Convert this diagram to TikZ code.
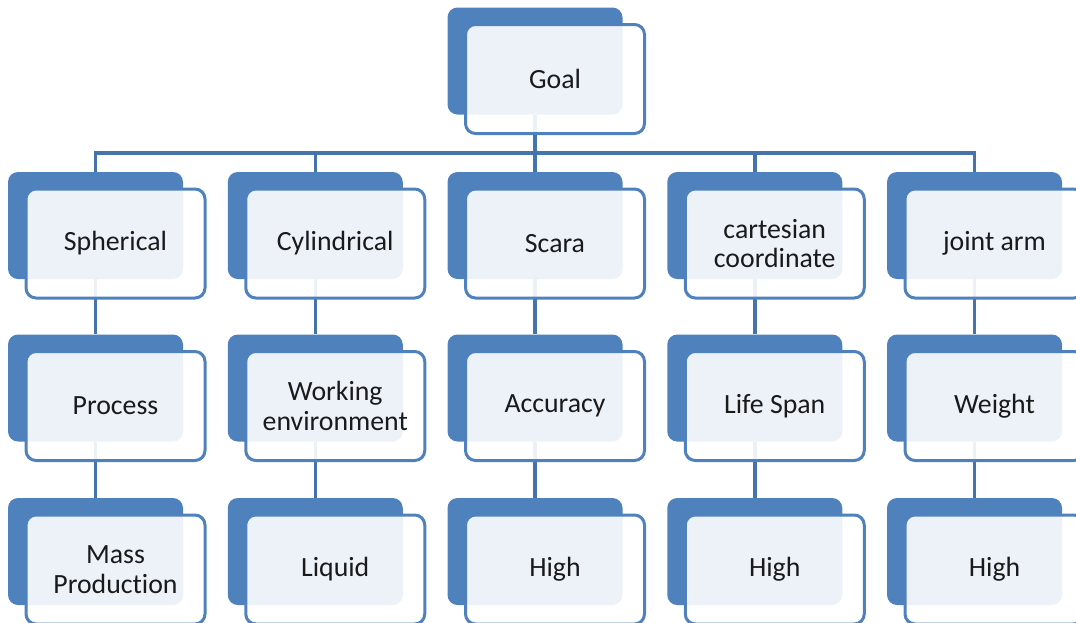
\documentclass[tikz,border=0pt]{standalone}
\usepackage{fontspec}
\setmainfont{Carlito}[Ligatures=NoCommon]
\definecolor{boxblue}{HTML}{4F81BD}
\definecolor{linkblue}{HTML}{4574AC}
\definecolor{txt}{HTML}{1A1A1A}
\begin{document}
\begin{tikzpicture}[x=1pt,y=-1pt,
 backbox/.style={rectangle, fill=boxblue, rounded corners=10pt, minimum width=175pt, minimum height=107pt, inner sep=0pt},
 frontbox/.style={rectangle, draw=boxblue, line width=3pt, fill=white, fill opacity=0.9, text opacity=1, rounded corners=10pt, minimum width=179pt, minimum height=109pt, inner sep=0pt, align=center, font=\fontsize{27.8}{29.5}\selectfont, text=txt},
 link/.style={draw=linkblue, line width=3.5pt}]
\useasboundingbox (0,0) rectangle (1076,622);
\clip (0,0) rectangle (1076,622);
% back boxes
\node[backbox] (bg) at (535,61) {};
\node[backbox] (b11) at (95.5,225.5) {};
\node[backbox] (b21) at (315.25,225.5) {};
\node[backbox] (b31) at (535,225.5) {};
\node[backbox] (b41) at (754.75,225.5) {};
\node[backbox] (b51) at (974.5,225.5) {};
\node[backbox] (b12) at (95.5,388) {};
\node[backbox] (b22) at (315.25,388) {};
\node[backbox] (b32) at (535,388) {};
\node[backbox] (b42) at (754.75,388) {};
\node[backbox] (b52) at (974.5,388) {};
\node[backbox] (b13) at (95.5,551.5) {};
\node[backbox] (b23) at (315.25,551.5) {};
\node[backbox] (b33) at (535,551.5) {};
\node[backbox] (b43) at (754.75,551.5) {};
\node[backbox] (b53) at (974.5,551.5) {};
% connectors
\coordinate (bar) at (0,153);
\draw[link] (bg.south) -- (bg.south |- bar);
\draw[link] (b11.north) -- (b11.north |- bar) -- (b51.north |- bar) -- (b51.north);
\draw[link] (b21.north) -- (b21.north |- bar);
\draw[link] (b31.north) -- (b31.north |- bar);
\draw[link] (b41.north) -- (b41.north |- bar);
\foreach \c in {1,...,5}{
  \draw[link] (b\c1.south) -- (b\c2.north);
  \draw[link] (b\c2.south) -- (b\c3.north);
}
% front boxes
\tikzset{fshift/.style={shift={(20,18)}}}
\node[frontbox] (fg) at ([fshift]bg.center) {Goal};
\node[frontbox] (f11) at ([fshift]b11.center) {Spherical};
\node[frontbox] (f21) at ([fshift]b21.center) {Cylindrical};
\node[frontbox] (f31) at ([fshift]b31.center) {Scara};
\node[frontbox] (f41) at ([fshift]b41.center) {cartesian\\coordinate};
\node[frontbox] (f51) at ([fshift]b51.center) {joint arm};
\node[frontbox] (f12) at ([fshift]b12.center) {Process};
\node[frontbox] (f22) at ([fshift]b22.center) {Working\\environment};
\node[frontbox] (f32) at ([fshift]b32.center) {Accuracy};
\node[frontbox] (f42) at ([fshift]b42.center) {Life Span};
\node[frontbox] (f52) at ([fshift]b52.center) {Weight};
\node[frontbox] (f13) at ([fshift]b13.center) {Mass\\Production};
\node[frontbox] (f23) at ([fshift]b23.center) {Liquid};
\node[frontbox] (f33) at ([fshift]b33.center) {High};
\node[frontbox] (f43) at ([fshift]b43.center) {High};
\node[frontbox] (f53) at ([fshift]b53.center) {High};
\end{tikzpicture}
\end{document}
